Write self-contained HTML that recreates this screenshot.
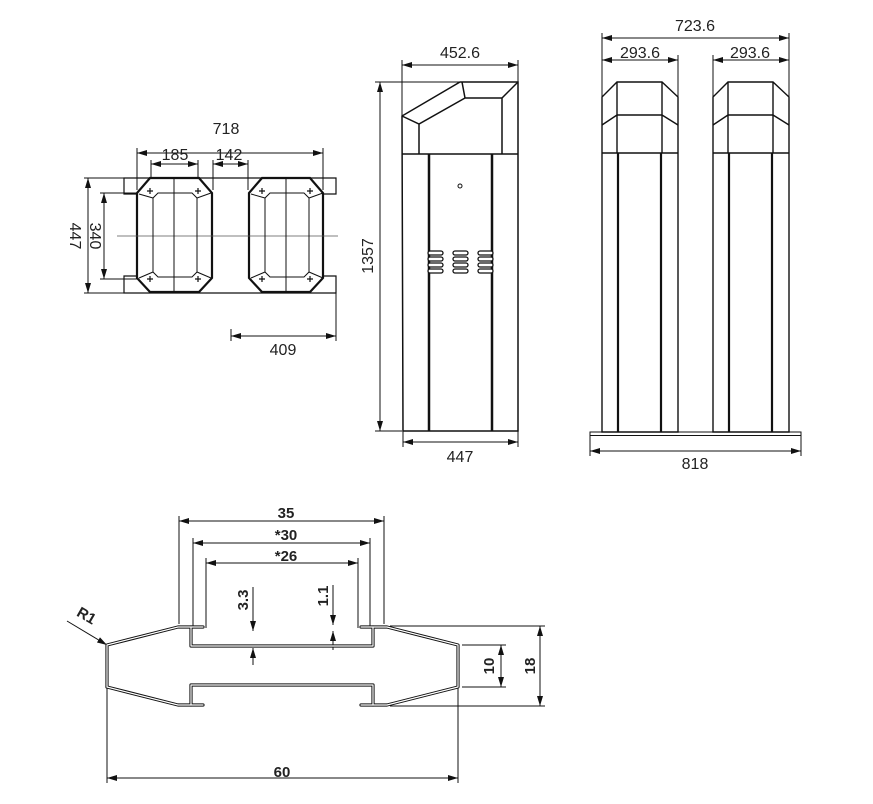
<!DOCTYPE html>
<html><head><meta charset="utf-8"><style>
html,body{margin:0;padding:0;background:#fff}
svg{display:block}
text{font-family:"Liberation Sans",sans-serif;fill:#222}
</style></head><body>
<svg width="873" height="804" viewBox="0 0 873 804" xmlns="http://www.w3.org/2000/svg">
<defs>
<marker id="a" viewBox="0 0 10 6" refX="10" refY="3" markerWidth="10" markerHeight="6" markerUnits="userSpaceOnUse" orient="auto-start-reverse"><path d="M0,0 L10,3 L0,6 z" fill="#111"/></marker>
</defs>
<g stroke="#111" stroke-width="1" fill="none">
<line x1="137" y1="153" x2="323" y2="153" marker-start="url(#a)" marker-end="url(#a)"/>
<line x1="137" y1="148" x2="137" y2="190"/><line x1="323" y1="148" x2="323" y2="190"/>
<line x1="151" y1="164" x2="198" y2="164" marker-start="url(#a)" marker-end="url(#a)"/>
<line x1="151" y1="160" x2="151" y2="188"/><line x1="198" y1="160" x2="198" y2="188"/>
<line x1="213" y1="164" x2="248" y2="164" marker-start="url(#a)" marker-end="url(#a)"/>
<line x1="213" y1="160" x2="213" y2="190"/><line x1="248" y1="160" x2="248" y2="190"/>
<line x1="88" y1="178" x2="88" y2="293" marker-start="url(#a)" marker-end="url(#a)"/>
<line x1="84" y1="178" x2="124" y2="178"/><line x1="84" y1="293" x2="124" y2="293"/>
<line x1="104" y1="193" x2="104" y2="279" marker-start="url(#a)" marker-end="url(#a)"/>
<line x1="100" y1="193" x2="137" y2="193"/><line x1="100" y1="279" x2="137" y2="279"/>
<line x1="231" y1="336" x2="336" y2="336" marker-start="url(#a)" marker-end="url(#a)"/>
<line x1="336" y1="293" x2="336" y2="341"/><line x1="231" y1="329" x2="231" y2="341"/>
<path d="M124,178 L336,178 L336,194 L323,194 L323,276 L336,276 L336,293 L124,293 L124,276 L137,276 L137,194 L124,194 Z" stroke-width="1.2"/>
<g stroke-width="2.2">
<path d="M150,178 L199,178 L212,193 L212,278 L199,292 L150,292 L137,278 L137,193 Z" fill="#fff"/>
<path d="M262,178 L310,178 L323,193 L323,278 L310,292 L262,292 L249,278 L249,193 Z" fill="#fff"/>
</g>
<line x1="117" y1="236" x2="338" y2="236" stroke="#555" stroke-width="0.8"/>
<path d="M158,193 L192,193 L197,198 L197,272 L192,277 L158,277 L153,272 L153,198 Z"/>
<path d="M270,193 L304,193 L309,198 L309,272 L304,277 L270,277 L265,272 L265,198 Z"/>
<line x1="174" y1="178" x2="174" y2="292"/><line x1="286" y1="178" x2="286" y2="292"/>
<path d="M139,194 L153,198 M197,198 L211,193 M139,278 L153,272 M197,272 L211,278"/>
<path d="M251,194 L265,198 M309,198 L323,193 M251,278 L265,272 M309,272 L323,278"/>
<g stroke-width="1.2">
<path d="M147,191 h6 M150,188 v6 M195,191 h6 M198,188 v6 M147,279 h6 M150,276 v6 M195,279 h6 M198,276 v6"/>
<path d="M259,191 h6 M262,188 v6 M307,191 h6 M310,188 v6 M259,279 h6 M262,276 v6 M307,279 h6 M310,276 v6"/>
</g>
<line x1="402" y1="65" x2="518" y2="65" marker-start="url(#a)" marker-end="url(#a)"/>
<line x1="402" y1="60" x2="402" y2="116"/><line x1="518" y1="60" x2="518" y2="82"/>
<line x1="380" y1="82" x2="380" y2="431" marker-start="url(#a)" marker-end="url(#a)"/>
<line x1="375" y1="82" x2="460" y2="82"/><line x1="375" y1="431" x2="402" y2="431"/>
<line x1="403" y1="442" x2="518" y2="442" marker-start="url(#a)" marker-end="url(#a)"/>
<line x1="403" y1="431" x2="403" y2="447"/><line x1="518" y1="431" x2="518" y2="447"/>
<path d="M460,82 L518,82 L518,431 L403,431 L402,116 Z" stroke-width="1.5"/>
<path d="M402,116 L419,124 L465,98 L462,82 M465,98 L502,98 L518,82 M419,124 L419,154 M502,98 L502,154 M402,154 L518,154" stroke-width="1.5"/>
<line x1="429" y1="154" x2="429" y2="431" stroke-width="2.5"/>
<line x1="492" y1="154" x2="492" y2="431" stroke-width="2.5"/>
<circle cx="460" cy="186" r="2"/>
<g stroke-width="1.3" fill="#fff">
<rect x="428" y="251" width="15" height="4" rx="2"/><rect x="428" y="257" width="15" height="4" rx="2"/><rect x="428" y="263" width="15" height="4" rx="2"/><rect x="428" y="269" width="15" height="4" rx="2"/>
<rect x="453" y="251" width="15" height="4" rx="2"/><rect x="453" y="257" width="15" height="4" rx="2"/><rect x="453" y="263" width="15" height="4" rx="2"/><rect x="453" y="269" width="15" height="4" rx="2"/>
<rect x="478" y="251" width="15" height="4" rx="2"/><rect x="478" y="257" width="15" height="4" rx="2"/><rect x="478" y="263" width="15" height="4" rx="2"/><rect x="478" y="269" width="15" height="4" rx="2"/>
</g>
<line x1="602" y1="38" x2="789" y2="38" marker-start="url(#a)" marker-end="url(#a)"/>
<line x1="602" y1="60" x2="678" y2="60" marker-start="url(#a)" marker-end="url(#a)"/>
<line x1="713" y1="60" x2="789" y2="60" marker-start="url(#a)" marker-end="url(#a)"/>
<path d="M602,33 V97 M678,55 V97 M713,55 V97 M789,33 V97"/>
<g stroke-width="1.4">
<path d="M617,82 L662,82 L678,97 L678,432 L602,432 L602,97 Z"/>
<path d="M602,125 L617,115 L662,115 L678,125 M617,82 V153 M662,82 V153 M602,153 H678"/>
<path d="M728,82 L773,82 L789,97 L789,432 L713,432 L713,97 Z"/>
<path d="M713,125 L728,115 L773,115 L789,125 M728,82 V153 M773,82 V153 M713,153 H789"/>
</g>
<g stroke-width="2.2">
<line x1="618" y1="153" x2="618" y2="432"/><line x1="661" y1="153" x2="661" y2="432"/>
<line x1="729" y1="153" x2="729" y2="432"/><line x1="772" y1="153" x2="772" y2="432"/>
</g>
<rect x="590" y="432" width="211" height="3.5"/>
<line x1="590" y1="451" x2="801" y2="451" marker-start="url(#a)" marker-end="url(#a)"/>
<path d="M590,436 V456 M801,436 V456"/>
<line x1="179" y1="521" x2="384" y2="521" marker-start="url(#a)" marker-end="url(#a)"/>
<path d="M179,516 V624 M384,516 V624"/>
<line x1="193" y1="543" x2="370" y2="543" marker-start="url(#a)" marker-end="url(#a)"/>
<path d="M193,538 V628 M370,538 V628"/>
<line x1="206" y1="563" x2="358" y2="563" marker-start="url(#a)" marker-end="url(#a)"/>
<path d="M206,558 V628 M358,558 V628"/>
<path d="M253,587 V631 M333,585 V625 M253,648 V665 M333,631 V650"/>
<line x1="253" y1="620" x2="253" y2="631" marker-end="url(#a)"/>
<line x1="253" y1="660" x2="253" y2="648" marker-end="url(#a)"/>
<line x1="333" y1="614" x2="333" y2="625" marker-end="url(#a)"/>
<line x1="333" y1="642" x2="333" y2="631" marker-end="url(#a)"/>
<line x1="501" y1="645" x2="501" y2="687" marker-start="url(#a)" marker-end="url(#a)"/>
<path d="M462,645 H506 M462,687 H506"/>
<line x1="540" y1="626" x2="540" y2="706" marker-start="url(#a)" marker-end="url(#a)"/>
<path d="M390,626 H545 M390,706 H545"/>
<line x1="107" y1="778" x2="458" y2="778" marker-start="url(#a)" marker-end="url(#a)"/>
<path d="M107,687 V783 M458,687 V783"/>
<line x1="67" y1="621" x2="107" y2="645" marker-end="url(#a)"/>
<g stroke-linejoin="round" stroke-linecap="round">
<g stroke="#111" stroke-width="3.2">
<path d="M107,687 L107,645 L178,627 L203,627"/>
<path d="M191,627 L191,646 L373,646 L373,627"/>
<path d="M361,627 L387,627 L458,645 L458,687 L387,705 L361,705"/>
<path d="M373,705 L373,685 L191,685 L191,705"/>
<path d="M203,705 L178,705 L107,687"/>
</g>
<g stroke="#fff" stroke-width="1.2">
<path d="M107,687 L107,645 L178,627 L203,627"/>
<path d="M191,627 L191,646 L373,646 L373,627"/>
<path d="M361,627 L387,627 L458,645 L458,687 L387,705 L361,705"/>
<path d="M373,705 L373,685 L191,685 L191,705"/>
<path d="M203,705 L178,705 L107,687"/>
</g>
</g>
</g>
<g font-size="16" text-anchor="middle">
<text x="226" y="134">718</text>
<text x="175" y="160">185</text>
<text x="229" y="160">142</text>
<text x="283" y="355">409</text>
<text transform="translate(70,236) rotate(90)">447</text>
<text transform="translate(90,236) rotate(90)">340</text>
<text x="460" y="58">452.6</text>
<text transform="translate(373,256) rotate(-90)">1357</text>
<text x="460" y="462">447</text>
<text x="695" y="31">723.6</text>
<text x="640" y="58">293.6</text>
<text x="750" y="58">293.6</text>
<text x="695" y="469">818</text>
</g>
<g font-size="15" font-weight="bold" text-anchor="middle">
<text x="286" y="518">35</text>
<text x="286" y="540">*30</text>
<text x="286" y="561">*26</text>
<text x="282" y="777">60</text>
<text transform="translate(248,600) rotate(-90)">3.3</text>
<text transform="translate(328,596) rotate(-90)">1.1</text>
<text transform="translate(494,666) rotate(-90)">10</text>
<text transform="translate(535,666) rotate(-90)">18</text>
<text transform="translate(84,620) rotate(30)">R1</text>
</g>
</svg>
</body></html>
